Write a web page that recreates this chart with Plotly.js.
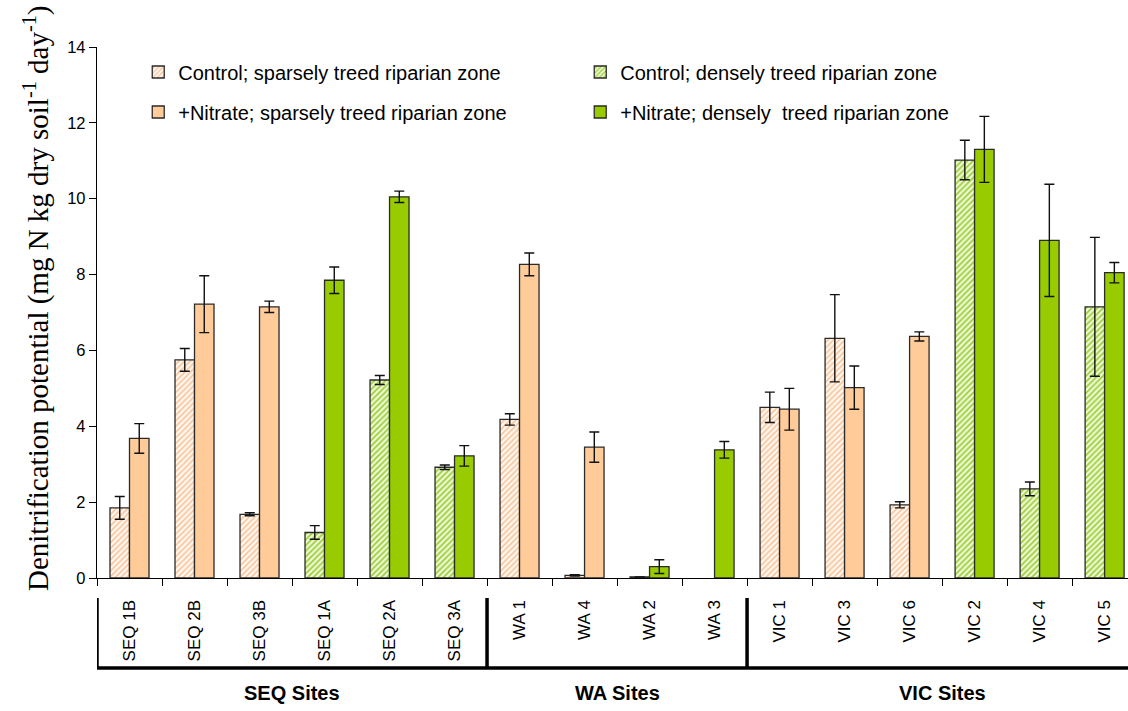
<!DOCTYPE html>
<html><head><meta charset="utf-8">
<script src="https://cdn.plot.ly/plotly-3.0.1.min.js"></script>
<style>html,body{margin:0;padding:0;background:#fff}</style>
</head><body><div id="chart" style="width:1128px;height:711px"></div>
<script>
const sites = ["SEQ 1B","SEQ 2B","SEQ 3B","SEQ 1A","SEQ 2A","SEQ 3A","WA 1","WA 4","WA 2","WA 3","VIC 1","VIC 3","VIC 6","VIC 2","VIC 4","VIC 5"];
const sparseSites = ["SEQ 1B","SEQ 2B","SEQ 3B","WA 1","WA 4","VIC 1","VIC 3","VIC 6"];
const denseSites  = ["SEQ 1A","SEQ 2A","SEQ 3A","WA 2","WA 3","VIC 2","VIC 4","VIC 5"];
const sparseControl    = [1.85, 5.75, 1.68, 4.18, 0.07, 4.50, 6.32, 1.93];
const sparseControlErr = [0.30, 0.30, 0.04, 0.15, 0.02, 0.40, 1.15, 0.08];
const sparseNitrate    = [3.68, 7.22, 7.15, 8.27, 3.45, 4.45, 5.02, 6.37];
const sparseNitrateErr = [0.39, 0.75, 0.15, 0.30, 0.40, 0.55, 0.57, 0.12];
const denseControl     = [1.20, 5.22, 2.92, 0.03, null, 11.02, 2.35, 7.15];
const denseControlErr  = [0.18, 0.12, 0.06, 0.00, null, 0.52, 0.18, 1.83];
const denseNitrate     = [7.85, 10.05, 3.22, 0.30, 3.38, 11.30, 8.90, 8.05];
const denseNitrateErr  = [0.35, 0.15, 0.27, 0.18, 0.22, 0.87, 1.48, 0.27];
const groups = [{name:"SEQ Sites", from:-0.5, to:5.5},{name:"WA Sites", from:5.5, to:9.5},{name:"VIC Sites", from:9.5, to:15.36}];
const yTitle = 'Denitrification potential (mg N kg dry soil<sup>-1</sup> day<sup>-1</sup>)';

const line = {color:'#2a2a2a', width:1.3};
const err = v => ({type:'data', array:v, visible:true, color:'#111', thickness:1.4, width:5});
const traces = [
  {type:'bar', name:'Control; sparsely treed riparian zone', x:sparseSites, y:sparseControl, error_y:err(sparseControlErr),
   offsetgroup:'c', legend:'legend',
   marker:{color:'#FFF3E8', line:line, pattern:{shape:'/', fgcolor:'#F7BE8F', bgcolor:'#FFF6EE', size:4, solidity:0.35}}},
  {type:'bar', name:'Control; densely treed riparian zone', x:denseSites, y:denseControl, error_y:err(denseControlErr),
   offsetgroup:'c', legend:'legend',
   marker:{color:'#EAF6CC', line:line, pattern:{shape:'/', fgcolor:'#9ACD32', bgcolor:'#EEF8D6', size:4, solidity:0.4}}},
  {type:'bar', name:'+Nitrate; sparsely treed riparian zone', x:sparseSites, y:sparseNitrate, error_y:err(sparseNitrateErr),
   offsetgroup:'n', legend:'legend2',
   marker:{color:'#FFCC99', line:line}},
  {type:'bar', name:'+Nitrate; densely  treed riparian zone', x:denseSites, y:denseNitrate, error_y:err(denseNitrateErr),
   offsetgroup:'n', legend:'legend2',
   marker:{color:'#99CC00', line:line}}
];

const W = 1128, H = 711, mL = 97, mT = 47, mB = 133;
const plotH = H - mT - mB, plotW = W - mL;
const py = p => (H - mB - p) / plotH;   // pixel y -> paper y
const px = p => (p - mL) / plotW;       // pixel x -> paper x

const shapes = [];
const annotations = [];
const bracketBottom = py(668), bracketTop = py(598);
shapes.push({type:'line', xref:'x', yref:'paper', x0:-0.5, x1:15.36, y0:bracketBottom, y1:bracketBottom, line:{color:'#000', width:3.5}});
[-0.5, 5.5, 9.5].forEach(v => shapes.push({type:'line', xref:'x', yref:'paper', x0:v, x1:v, y0:bracketBottom, y1:bracketTop, line:{color:'#000', width:3.5}}));
groups.forEach(g => {
  const c = g.name === 'VIC Sites' ? 12.5 : (g.from + g.to) / 2;
  annotations.push({xref:'x', yref:'paper', x:c, y:py(693), text:'<b>'+g.name+'</b>', showarrow:false,
    font:{family:'Liberation Sans, Arial', size:20, color:'#000'}, xanchor:'center', yanchor:'middle'});
});
annotations.push({xref:'paper', yref:'paper', x:px(36), y:py(298), text:yTitle, textangle:-90, showarrow:false,
  xanchor:'center', yanchor:'middle', font:{family:'Liberation Serif, Times New Roman', size:29, color:'#000'}});

const legendBase = {orientation:'h', x:0.04, xanchor:'left', yanchor:'middle', entrywidth:397, entrywidthmode:'pixels',
    bgcolor:'rgba(0,0,0,0)', font:{family:'Liberation Sans, Arial', size:20, color:'#000'}, traceorder:'normal'};

const layout = {
  width:W, height:H, margin:{l:mL, r:0, t:mT, b:mB},
  paper_bgcolor:'#fff', plot_bgcolor:'#fff',
  font:{family:'Liberation Sans, Arial', color:'#000'},
  barmode:'group', bargap:0.4, bargroupgap:0,
  xaxis:{type:'category', categoryorder:'array', categoryarray:sites, range:[-0.5, 15.36],
    showline:true, linecolor:'#000', linewidth:1.2, ticks:'outside', tickson:'boundaries', ticklen:7, tickcolor:'#000',
    tickangle:-90, ticklabelstandoff:14, tickfont:{family:'Liberation Sans, Arial', size:17, color:'#000'},
    showgrid:false, zeroline:false, fixedrange:true},
  yaxis:{range:[0,14], dtick:2, showline:true, linecolor:'#000', linewidth:1.2, ticks:'outside', ticklen:7, tickcolor:'#000',
    tickfont:{family:'Liberation Sans, Arial', size:16.5, color:'#000'}, showgrid:false, zeroline:false},
  legend:Object.assign({}, legendBase, {y:py(72)}),
  legend2:Object.assign({}, legendBase, {y:py(112)}),
  shapes:shapes, annotations:annotations
};
Plotly.newPlot('chart', traces, layout, {displayModeBar:false, staticPlot:true});
</script></body></html>
